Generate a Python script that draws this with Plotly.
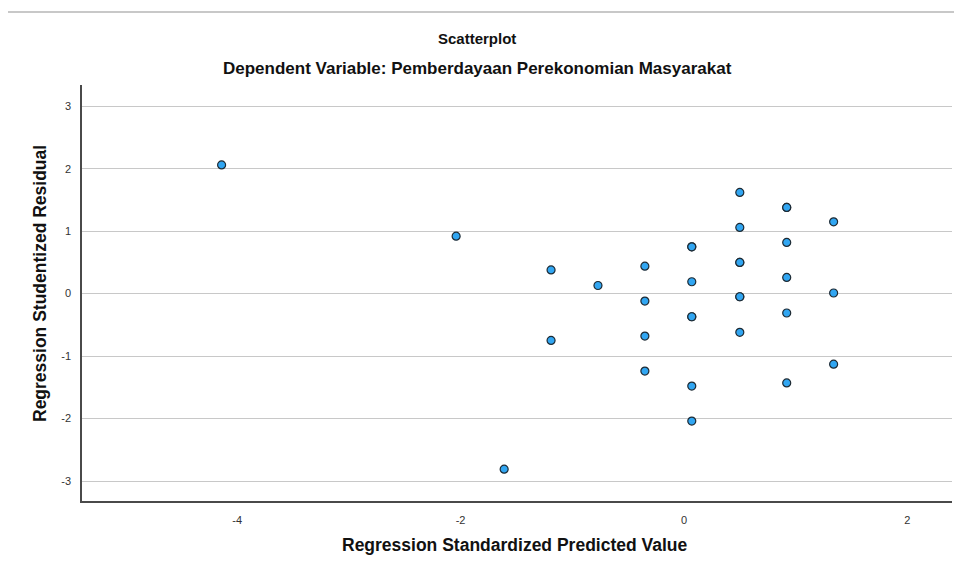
import plotly.graph_objects as go

# Regression Standardized Predicted Value (x) and Regression Studentized Residual (y)
pred_values = [-4.14, -2.04, -1.61, -1.19, -1.19, -0.77,
               -0.35, -0.35, -0.35, -0.35,
               0.07, 0.07, 0.07, 0.07, 0.07, 0.07, 0.07,
               0.50, 0.50, 0.50, 0.50, 0.50, 0.50, 0.50,
               0.92, 0.92, 0.92, 0.92, 0.92, 0.92,
               1.34, 1.34, 1.34]
resid_values = [2.06, 0.92, -2.81, 0.38, -0.75, 0.13,
                0.44, -0.12, -0.68, -1.24,
                0.75, 0.75, 0.19, -0.37, -0.37, -1.48, -2.04,
                1.62, 1.06, 0.50, 0.50, -0.05, -0.05, -0.62,
                1.38, 0.82, 0.26, -0.31, -1.43, 1.38,
                1.15, 0.01, -1.13]

x_ticks = [-4, -2, 0, 2]
x_tick_labels = ["-4", "-2", "0", "2"]
y_ticks = [-3, -2, -1, 0, 1, 2, 3]
y_tick_labels = ["-3", "-2", "-1", "0", "1", "2", "3"]

title_text = "Scatterplot"
subtitle_text = "Dependent Variable: Pemberdayaan Perekonomian Masyarakat"
x_title = "Regression Standardized Predicted Value"
y_title = "Regression Studentized Residual"

FONT = "Arial, 'Liberation Sans', sans-serif"

W, H = 954, 564
L, T = 82, 85
R = W - 952
B = H - 501
PW = W - L - R
PH = H - T - B


def px_x(px):
    return (px - L) / PW


def px_y(py):
    return (H - B - py) / PH


fig = go.Figure()
fig.add_trace(go.Scatter(
    x=pred_values, y=resid_values, mode="markers",
    marker=dict(size=8, color="#31a6f2", line=dict(color="#1e2a33", width=1.2)),
    showlegend=False, hoverinfo="x+y",
))

fig.update_layout(
    width=W, height=H,
    margin=dict(l=L, r=R, t=T, b=B, pad=0),
    paper_bgcolor="white", plot_bgcolor="white",
    font=dict(family=FONT, color="#222"),
    xaxis=dict(
        range=[-5.39, 2.40], tickvals=x_ticks, ticktext=x_tick_labels,
        showgrid=False, zeroline=False,
        showline=True, linecolor="#4a4a4a", linewidth=1.5,
        tickfont=dict(size=11, color="#333"), ticks="", ticklabelstandoff=8,
    ),
    yaxis=dict(
        range=[-3.32, 3.34], tickvals=y_ticks, ticktext=y_tick_labels,
        showgrid=True, gridcolor="#c8c8c8", gridwidth=1,
        zeroline=False, showline=True, linecolor="#4a4a4a", linewidth=1.5,
        tickfont=dict(size=11, color="#333"), ticks="", ticklabelstandoff=7,
    ),
    annotations=[
        dict(text="<b>" + title_text + "</b>", xref="paper", yref="paper",
             x=px_x(477), y=px_y(38), xanchor="center", yanchor="middle",
             showarrow=False, font=dict(size=15, color="#111")),
        dict(text="<b>" + subtitle_text + "</b>", xref="paper", yref="paper",
             x=px_x(477), y=px_y(69), xanchor="center", yanchor="middle",
             showarrow=False, font=dict(size=17, color="#111")),
        dict(text="<b>" + x_title + "</b>", xref="paper", yref="paper",
             x=px_x(515), y=px_y(545), xanchor="center", yanchor="middle",
             showarrow=False, font=dict(size=17.5, color="#111")),
        dict(text="<b>" + y_title + "</b>", xref="paper", yref="paper",
             x=px_x(40), y=px_y(284), xanchor="center", yanchor="middle",
             textangle=-90, showarrow=False, font=dict(size=17.5, color="#111")),
    ],
    shapes=[
        dict(type="line", xref="paper", yref="paper",
             x0=px_x(8), x1=px_x(960), y0=px_y(12), y1=px_y(12),
             line=dict(color="#c8c8c8", width=2)),
    ],
)

fig.write_html(
    "out.html",
    config={"displayModeBar": False},
    post_script="document.body.style.margin='0';document.body.style.overflow='hidden';",
)
